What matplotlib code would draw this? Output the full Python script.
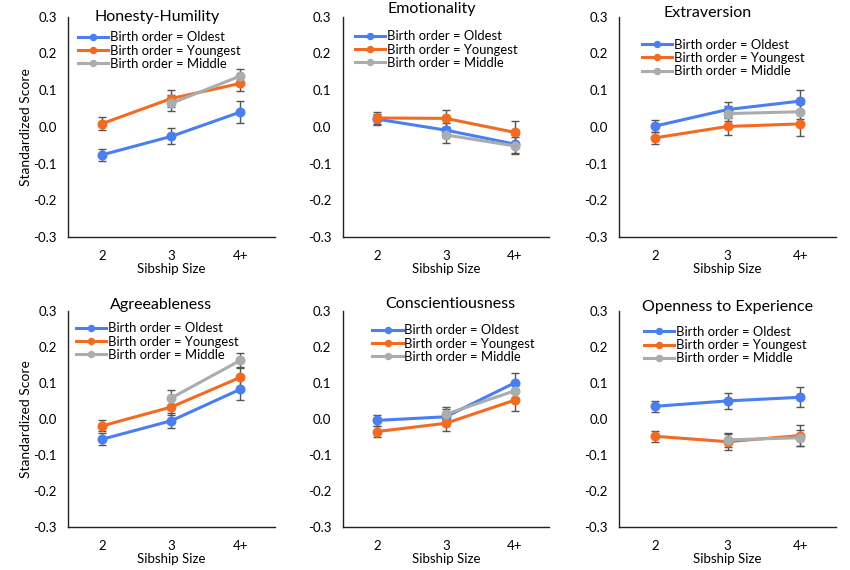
import matplotlib
matplotlib.use('Agg')
import matplotlib.pyplot as plt
import numpy as np

plt.rcParams['font.family'] = ['Lato', 'DejaVu Sans']

sizes = ['2', '3', '4+']
traits = ['Honesty-Humility', 'Emotionality', 'Extraversion',
          'Agreeableness', 'Conscientiousness', 'Openness to Experience']

# means per trait: oldest, youngest (sizes 2,3,4+), middle (sizes 3,4+)
oldest = [[-0.076, -0.026, 0.040],
          [0.021, -0.009, -0.047],
          [0.002, 0.047, 0.070],
          [-0.056, -0.005, 0.082],
          [-0.004, 0.006, 0.100],
          [0.035, 0.050, 0.060]]
oldest_err = [[0.017, 0.022, 0.029],
              [0.015, 0.020, 0.025],
              [0.016, 0.021, 0.030],
              [0.017, 0.021, 0.030],
              [0.016, 0.022, 0.028],
              [0.015, 0.022, 0.028]]
youngest = [[0.009, 0.077, 0.118],
            [0.024, 0.023, -0.015],
            [-0.030, 0.001, 0.008],
            [-0.019, 0.033, 0.115],
            [-0.035, -0.012, 0.052],
            [-0.048, -0.063, -0.046]]
youngest_err = [[0.017, 0.022, 0.021],
                [0.016, 0.024, 0.031],
                [0.016, 0.023, 0.032],
                [0.015, 0.021, 0.030],
                [0.016, 0.022, 0.030],
                [0.016, 0.022, 0.028]]
middle = [[0.064, 0.138],
          [-0.022, -0.052],
          [0.036, 0.041],
          [0.058, 0.162],
          [0.013, 0.078],
          [-0.058, -0.052]]
middle_err = [[0.022, 0.020],
              [0.022, 0.023],
              [0.020, 0.020],
              [0.022, 0.022],
              [0.020, 0.020],
              [0.020, 0.022]]

c_old = '#4a7ff0'
c_young = '#f26b21'
c_mid = '#a9adad'
c_err = '#555555'

fig = plt.figure(figsize=(8.5, 5.7), dpi=100)
lefts = [0.080, 0.403, 0.728]
widths = [0.243, 0.243, 0.256]
bottoms = [0.584, 0.075]
heights = [0.387, 0.380]
title_x = [0.43, 0.43, 0.41, 0.45, 0.52, 0.50]
title_y = [1.0, 1.036, 1.018, 1.027, 1.03, 1.018]
leg_x = [0.05, 0.06, 0.105, 0.04, 0.145, 0.115]
leg_y = [0.933, 0.937, 0.90, 0.946, 0.937, 0.93]

x = np.arange(3) + 0.5
for i, name in enumerate(traits):
    r, c = divmod(i, 3)
    ax = fig.add_axes([lefts[c], bottoms[r], widths[c], heights[r]])
    ax.errorbar(x, oldest[i], yerr=oldest_err[i], fmt='none', ecolor=c_err,
                elinewidth=1, capsize=3, capthick=1, zorder=2)
    ax.errorbar(x, youngest[i], yerr=youngest_err[i], fmt='none', ecolor=c_err,
                elinewidth=1, capsize=3, capthick=1, zorder=2)
    ax.errorbar(x[1:], middle[i], yerr=middle_err[i], fmt='none', ecolor=c_err,
                elinewidth=1, capsize=3, capthick=1, zorder=2)
    ax.plot(x, oldest[i], color=c_old, lw=2.2, marker='o', ms=6.2,
            label='Birth order = Oldest', zorder=3)
    ax.plot(x, youngest[i], color=c_young, lw=2.2, marker='o', ms=6.2,
            label='Birth order = Youngest', zorder=3)
    ax.plot(x[1:], middle[i], color=c_mid, lw=2.2, marker='o', ms=6.2,
            label='Birth order = Middle', zorder=3)

    ax.set_xlim(0, 3)
    ax.set_ylim(-0.3, 0.3)
    ax.set_xticks(x)
    ax.set_xticklabels(sizes, fontsize=9.5)
    ax.set_yticks(np.arange(-0.3, 0.31, 0.1))
    ax.set_yticklabels(['%.1f' % v for v in np.arange(-0.3, 0.31, 0.1)], fontsize=9.5)
    ax.tick_params(axis='x', length=0, pad=9)
    ax.tick_params(axis='y', length=0, pad=8)
    for s in ['top', 'right']:
        ax.spines[s].set_visible(False)
    for s in ['left', 'bottom']:
        ax.spines[s].set_color('#222222')
        ax.spines[s].set_linewidth(1.0)
    ax.set_xlabel('Sibship Size', fontsize=9.5, labelpad=1)
    if c == 0:
        ax.set_ylabel('Standardized Score', fontsize=10, labelpad=1)
    ax.text(title_x[i], title_y[i], name, transform=ax.transAxes,
            ha='center', va='center', fontsize=11.5)
    ax.legend(loc='upper left', bbox_to_anchor=(leg_x[i], leg_y[i]), frameon=False,
              fontsize=9.4, handlelength=2.3, markerscale=0.7, borderpad=0,
              handletextpad=0.15, labelspacing=0.1, borderaxespad=0)

fig.savefig('out.png', dpi=100)
